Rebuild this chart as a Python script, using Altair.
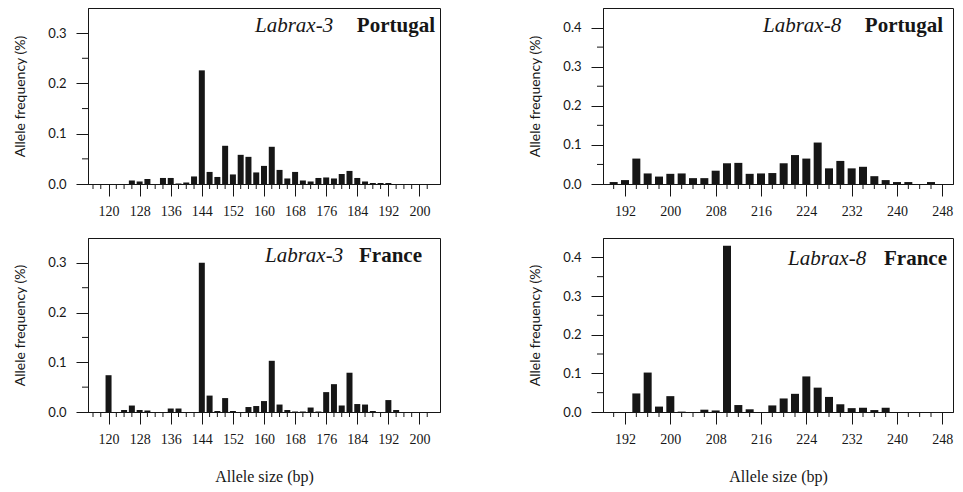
import altair as alt
import pandas as pd

# ---- data ----
l3_pt_size = [126, 128, 130, 134, 136, 138, 140, 142, 144, 146, 148, 150, 152, 154, 156, 158,
              160, 162, 164, 166, 168, 170, 172, 174, 176, 178, 180, 182, 184, 186, 188, 190, 192]
l3_pt_freq = [0.007, 0.005, 0.010, 0.012, 0.012, 0.001, 0.003, 0.015, 0.226, 0.024, 0.014, 0.076,
              0.019, 0.058, 0.054, 0.023, 0.036, 0.074, 0.028, 0.011, 0.024, 0.007, 0.005, 0.012,
              0.013, 0.011, 0.020, 0.026, 0.012, 0.005, 0.002, 0.002, 0.002]

l3_fr_size = [120, 124, 126, 128, 130, 136, 138, 144, 146, 148, 150, 152, 156, 158, 160, 162,
              164, 166, 168, 170, 172, 174, 176, 178, 180, 182, 184, 186, 188, 192, 194]
l3_fr_freq = [0.074, 0.004, 0.013, 0.004, 0.003, 0.007, 0.007, 0.300, 0.033, 0.002, 0.028, 0.002,
              0.010, 0.012, 0.022, 0.103, 0.015, 0.004, 0.001, 0.001, 0.009, 0.001, 0.040, 0.056,
              0.013, 0.079, 0.016, 0.015, 0.002, 0.024, 0.004]

l8_pt_size = [190, 192, 194, 196, 198, 200, 202, 204, 206, 208, 210, 212, 214, 216, 218, 220,
              222, 224, 226, 228, 230, 232, 234, 236, 238, 240, 242, 246]
l8_pt_freq = [0.005, 0.010, 0.065, 0.027, 0.019, 0.026, 0.027, 0.015, 0.015, 0.034, 0.053, 0.054,
              0.026, 0.027, 0.028, 0.053, 0.074, 0.065, 0.106, 0.040, 0.059, 0.040, 0.044, 0.020,
              0.010, 0.005, 0.005, 0.005]

l8_fr_size = [194, 196, 198, 200, 202, 206, 208, 210, 212, 214, 218, 220, 222, 224, 226, 228,
              230, 232, 234, 236, 238]
l8_fr_freq = [0.048, 0.102, 0.014, 0.041, 0.001, 0.006, 0.004, 0.430, 0.018, 0.007, 0.017, 0.035,
              0.047, 0.092, 0.063, 0.039, 0.020, 0.010, 0.011, 0.005, 0.011]

l3_x_major = [120, 128, 136, 144, 152, 160, 168, 176, 184, 192, 200]
l3_x_minor = [116, 118, 122, 124, 126, 130, 132, 134, 138, 140, 142, 146, 148, 150, 154, 156, 158,
              162, 164, 166, 170, 172, 174, 178, 180, 182, 186, 188, 190, 194, 196, 198, 202]
l8_x_major = [192, 200, 208, 216, 224, 232, 240, 248]
l8_x_minor = [190, 194, 196, 198, 202, 204, 206, 210, 212, 214, 218, 220, 222, 226, 228, 230,
              234, 236, 238, 242, 244, 246]
l3_y_major = [0.0, 0.1, 0.2, 0.3]
l3_y_minor = [0.05, 0.15, 0.25]
l8_y_major = [0.0, 0.1, 0.2, 0.3, 0.4]
l8_y_minor = [0.05, 0.15, 0.25, 0.35]

INK = "#161616"
SERIF = "Liberation Serif"
SANS = "Lato"


def panel(sizes, freqs, xdom, xmaj, xmin, ydom, ymaj, ymin, w, h, bar_size,
          gene, country, gx, cx, ty, show_xtitle):
    df = pd.DataFrame({"size": sizes, "freq": freqs})
    xs = alt.Scale(domain=xdom, nice=False, zero=False)
    ys = alt.Scale(domain=ydom, nice=False)
    xaxis = alt.Axis(values=xmaj, format="d", grid=False, tickSize=12,
                     labelFont=SERIF, labelFontSize=14, labelPadding=8,
                     titleFont=SERIF, titleFontSize=16, titleFontWeight="normal",
                     titlePadding=22)
    yaxis = alt.Axis(values=ymaj, format=".1f", grid=False, tickSize=12,
                     labelFont=SANS, labelFontSize=13, labelPadding=10,
                     titleFont=SANS, titleFontSize=14, titleFontWeight="normal",
                     titlePadding=20)
    xtitle = "Allele size (bp)" if show_xtitle else None
    ytitle = "Allele frequency (%)"
    bars = alt.Chart(df).mark_bar(size=bar_size, color=INK).encode(
        x=alt.X("size:Q", scale=xs, axis=xaxis, title=xtitle),
        y=alt.Y("freq:Q", scale=ys, axis=yaxis, title=ytitle),
    )
    mx = alt.Chart(pd.DataFrame({"size": xmin})).mark_rule(color=INK, strokeWidth=1).encode(
        x=alt.X("size:Q", scale=xs, axis=xaxis, title=xtitle),
        y=alt.value(h), y2=alt.value(h + 5),
    )
    my = alt.Chart(pd.DataFrame({"freq": ymin})).mark_rule(color=INK, strokeWidth=1).encode(
        y=alt.Y("freq:Q", scale=ys, axis=yaxis, title=ytitle),
        x=alt.value(0), x2=alt.value(-6),
    )
    t1 = alt.Chart(pd.DataFrame({"t": [gene]})).mark_text(
        font=SERIF, fontSize=21, fontStyle="italic", align="left", baseline="alphabetic",
        color=INK).encode(text="t:N", x=alt.value(gx), y=alt.value(ty))
    t2 = alt.Chart(pd.DataFrame({"t": [country]})).mark_text(
        font=SERIF, fontSize=21, fontWeight="bold", align="right", baseline="alphabetic",
        color=INK).encode(text="t:N", x=alt.value(cx), y=alt.value(ty))
    return alt.layer(bars, mx, my, t1, t2).properties(width=w, height=h)


p1 = panel(l3_pt_size, l3_pt_freq, [116, 204], l3_x_major, l3_x_minor, [0, 0.35],
           l3_y_major, l3_y_minor, 352, 176, 6, "Labrax-3", "Portugal", 167, 347, 24, False)
p2 = panel(l8_pt_size, l8_pt_freq, [189, 249], l8_x_major, l8_x_minor, [0, 0.45],
           l8_y_major, l8_y_minor, 350, 176, 8, "Labrax-8", "Portugal", 160, 340, 24, False)
p3 = panel(l3_fr_size, l3_fr_freq, [116, 204], l3_x_major, l3_x_minor, [0, 0.35],
           l3_y_major, l3_y_minor, 352, 174, 6, "Labrax-3", "France", 177, 334, 24, True)
p4 = panel(l8_fr_size, l8_fr_freq, [189, 249], l8_x_major, l8_x_minor, [0, 0.45],
           l8_y_major, l8_y_minor, 350, 174, 8, "Labrax-8", "France", 185, 344, 27, True)

chart = alt.vconcat(
    alt.hconcat(p1, p2, spacing=87),
    alt.hconcat(p3, p4, spacing=87),
    spacing=18,
).properties(
    padding={"left": 13, "top": 7, "right": 5, "bottom": 5},
    background="white",
).configure_view(
    stroke=INK, strokeWidth=1
).configure_axis(
    domainColor=INK, tickColor=INK, labelColor=INK, titleColor=INK
)

chart.save("out.html", embed_options={"renderer": "svg", "actions": False})
